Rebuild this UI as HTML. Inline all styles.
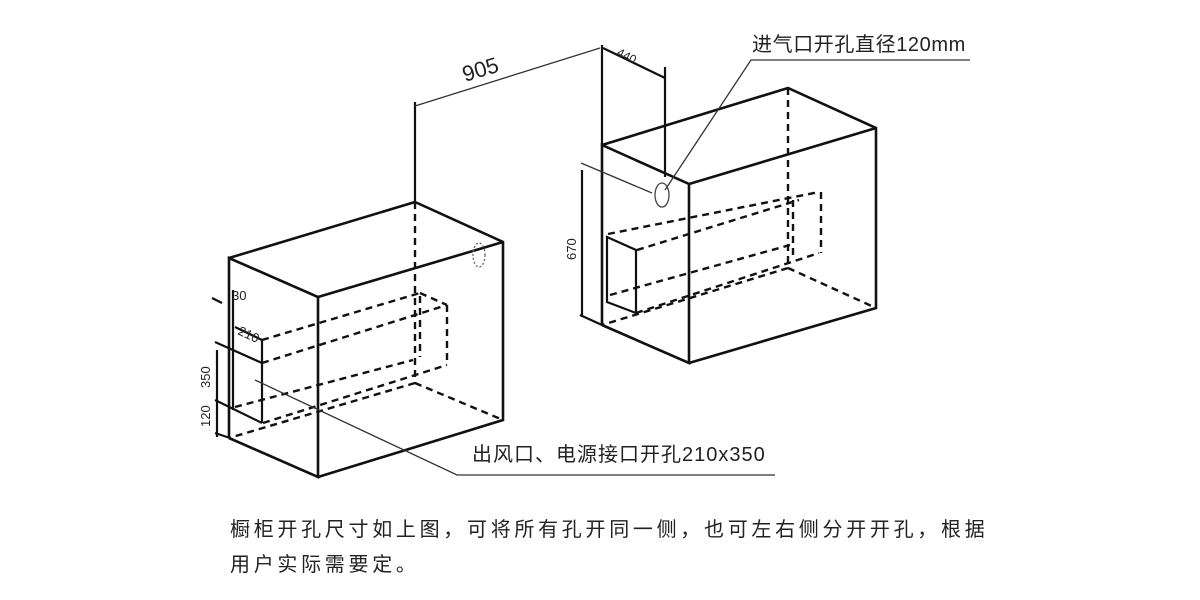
<!DOCTYPE html>
<html><head><meta charset="utf-8"><style>
html,body{margin:0;padding:0;background:#fff;}
svg{display:block;}
.t{font-family:"Liberation Sans","Noto Sans CJK SC",sans-serif;fill:#222;}
</style></head><body>
<svg width="1200" height="600" viewBox="0 0 1200 600" xmlns="http://www.w3.org/2000/svg">
<g stroke="#111" stroke-width="2.6" fill="none" stroke-linejoin="miter">
<polyline points="229,438 229,258 318,297 318,477 229,438"/>
<polyline points="229,258 415,202 503,242 503,420 318,477"/>
<line x1="318" y1="297" x2="503" y2="242"/>
<polyline points="602,325 602,145 689,184 689,363 602,325"/>
<polyline points="602,145 788,88 876,128 876,308 689,363"/>
<line x1="689" y1="184" x2="876" y2="128"/>
</g>
<g stroke="#111" stroke-width="2.4" fill="none" stroke-dasharray="7,5">
<line x1="415" y1="202" x2="415" y2="383"/>
<line x1="415" y1="383" x2="503" y2="420"/>
<line x1="415" y1="383" x2="229" y2="438"/>
<line x1="262" y1="340" x2="420" y2="293"/>
<line x1="262" y1="363" x2="447" y2="305"/>
<line x1="235" y1="407" x2="413" y2="360"/>
<line x1="263" y1="423" x2="447" y2="365"/>
<line x1="420" y1="293" x2="447" y2="305"/>
<line x1="420" y1="296" x2="420" y2="357"/>
<line x1="447" y1="305" x2="447" y2="365"/>
<line x1="788" y1="88" x2="788" y2="268"/>
<line x1="788" y1="268" x2="876" y2="308"/>
<line x1="788" y1="268" x2="602" y2="325"/>
<line x1="608" y1="234" x2="819" y2="192"/>
<line x1="637" y1="250" x2="799" y2="200"/>
<line x1="610" y1="295" x2="790" y2="245"/>
<line x1="636" y1="313" x2="819" y2="253"/>
<line x1="793" y1="200" x2="793" y2="258"/>
<line x1="821" y1="192" x2="821" y2="253"/>
</g>
<g stroke="#111" stroke-width="2.2" fill="none">
<line x1="212" y1="298" x2="222" y2="303"/>
<line x1="233" y1="290" x2="233" y2="410"/>
<line x1="262" y1="340" x2="262" y2="423"/>
<line x1="235" y1="327" x2="262" y2="340"/>
<line x1="215" y1="342" x2="262" y2="363"/>
<line x1="215" y1="400" x2="262" y2="423"/>
<line x1="217" y1="350" x2="217" y2="437"/>
<line x1="215" y1="433" x2="230" y2="438"/>
<polygon points="607,237 636,250 636,313 607,302"/>
<line x1="415" y1="102" x2="415" y2="203"/>
<line x1="602" y1="45" x2="602" y2="145"/>
<line x1="665" y1="67" x2="665" y2="177"/>
<line x1="603" y1="48" x2="665" y2="78"/>
<line x1="582" y1="170" x2="582" y2="317"/>
<line x1="580" y1="315" x2="602" y2="325"/>
</g>
<g stroke="#333" stroke-width="1.3" fill="none">
<line x1="415" y1="106" x2="600" y2="48"/>
<line x1="581" y1="163" x2="652" y2="193"/>
<polyline points="665,190 751,60 970,60"/>
<polyline points="255,380 457,475 775,475"/>
<ellipse cx="662" cy="195" rx="7" ry="12" stroke="#444"/>
<ellipse cx="479" cy="255" rx="6" ry="12" stroke="#666" stroke-dasharray="2,2"/>
</g>
<g class="t">
<text x="465" y="82" font-size="22" transform="rotate(-17 465 82)">905</text>
<text x="616" y="55" font-size="12" transform="rotate(27 616 55)">440</text>
<text x="576" y="260" font-size="13" transform="rotate(-90 576 260)">670</text>
<text x="232" y="300" font-size="13">30</text>
<text x="237" y="334" font-size="13" transform="rotate(25 237 334)">210</text>
<text x="210" y="388" font-size="13" transform="rotate(-90 210 388)">350</text>
<text x="210" y="427" font-size="13" transform="rotate(-90 210 427)">120</text>
<text x="752" y="51" font-size="20" letter-spacing="0.6">进气口开孔直径120mm</text>
<text x="472" y="461" font-size="20" letter-spacing="1">出风口、电源接口开孔210x350</text>
<text x="230" y="536" font-size="20" letter-spacing="3.7">橱柜开孔尺寸如上图，可将所有孔开同一侧，也可左右侧分开开孔，根据</text>
<text x="230" y="571" font-size="20" letter-spacing="3.7">用户实际需要定。</text>
</g>
</svg>
</body></html>
